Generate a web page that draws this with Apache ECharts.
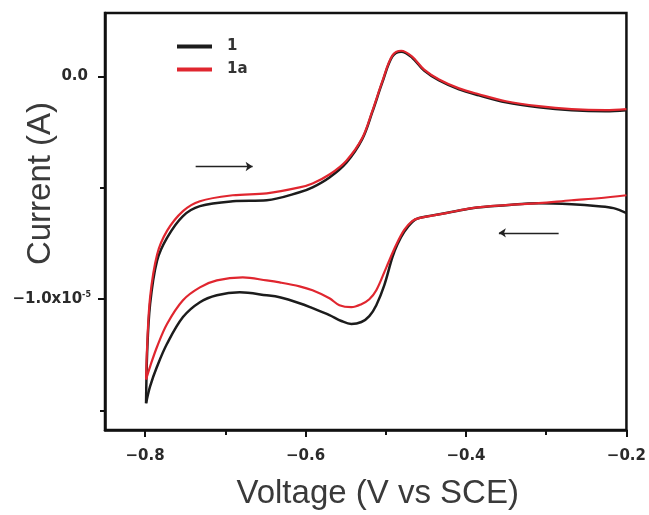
<!DOCTYPE html>
<html>
<head>
<meta charset="utf-8">
<script src="https://cdn.jsdelivr.net/npm/echarts@6/dist/echarts.min.js"></script>
<style>
html,body{margin:0;padding:0;background:#fff;}
#chart{width:649px;height:515px;}
</style>
</head>
<body>
<div id="chart"></div>
<script>
// Current values are in units of 1e-5 A
var seriesNames = ['1', '1a'];
// sample 1: forward scan (upper branch, -0.8 -> -0.2)
var blackUpV = [-0.7988,-0.7975,-0.7938,-0.7851,-0.7727,-0.7528,-0.7317,-0.6907,-0.6484,-0.6075,-0.5913,-0.5702,-0.5491,-0.5292,-0.5168,-0.5043,-0.4919,-0.4807,-0.4671,-0.4522,-0.4335,-0.4087,-0.3839,-0.3503,-0.3093,-0.2683,-0.2261,-0.2000];
var blackUpI = [-1.4667,-1.2444,-1.0222,-0.8267,-0.7244,-0.6267,-0.5822,-0.5600,-0.5556,-0.5200,-0.4978,-0.4533,-0.3867,-0.2800,-0.1600,-0.0267,0.0889,0.1111,0.0844,0.0267,-0.0178,-0.0578,-0.0844,-0.1156,-0.1378,-0.1511,-0.1556,-0.1511];
// sample 1: reverse scan (lower branch, -0.2 -> -0.8)
var blackDownV = [-0.2000,-0.2161,-0.2348,-0.2683,-0.3093,-0.3503,-0.3925,-0.4248,-0.4584,-0.4671,-0.4770,-0.4857,-0.4919,-0.5019,-0.5118,-0.5205,-0.5304,-0.5429,-0.5553,-0.5702,-0.5913,-0.6075,-0.6323,-0.6484,-0.6820,-0.7106,-0.7317,-0.7528,-0.7727,-0.7851,-0.7938,-0.7988];
var blackDownI = [-0.6133,-0.5911,-0.5822,-0.5733,-0.5689,-0.5778,-0.5911,-0.6133,-0.6356,-0.6533,-0.6978,-0.7556,-0.8133,-0.9378,-1.0267,-1.0756,-1.1022,-1.1111,-1.0978,-1.0711,-1.0400,-1.0178,-0.9911,-0.9822,-0.9689,-0.9822,-1.0133,-1.0800,-1.2000,-1.3022,-1.3911,-1.4667];
// sample 1a: forward scan
var redUpV = [-0.7988,-0.7975,-0.7938,-0.7851,-0.7727,-0.7528,-0.7317,-0.6907,-0.6484,-0.6075,-0.5913,-0.5702,-0.5491,-0.5292,-0.5168,-0.5043,-0.4919,-0.4807,-0.4671,-0.4522,-0.4335,-0.4087,-0.3839,-0.3503,-0.3093,-0.2683,-0.2261,-0.2000];
var redUpI = [-1.3600,-1.2133,-0.9911,-0.8000,-0.6933,-0.6044,-0.5600,-0.5333,-0.5244,-0.4978,-0.4800,-0.4400,-0.3778,-0.2756,-0.1556,-0.0222,0.0933,0.1156,0.0889,0.0311,-0.0133,-0.0533,-0.0800,-0.1111,-0.1333,-0.1467,-0.1511,-0.1467];
// sample 1a: reverse scan
var redDownV = [-0.2000,-0.2348,-0.2683,-0.3093,-0.3503,-0.3925,-0.4248,-0.4584,-0.4671,-0.4770,-0.4870,-0.4994,-0.5118,-0.5205,-0.5304,-0.5429,-0.5578,-0.5702,-0.5913,-0.6075,-0.6323,-0.6484,-0.6783,-0.7106,-0.7317,-0.7528,-0.7727,-0.7851,-0.7938,-0.7988];
var redDownI = [-0.5333,-0.5467,-0.5556,-0.5689,-0.5778,-0.5911,-0.6133,-0.6356,-0.6489,-0.6889,-0.7556,-0.8578,-0.9600,-1.0000,-1.0222,-1.0356,-1.0267,-0.9956,-0.9600,-0.9422,-0.9244,-0.9156,-0.9022,-0.9156,-0.9467,-1.0044,-1.1111,-1.2133,-1.3022,-1.3600];
var xMajorTicks = [-0.8, -0.6, -0.4, -0.2];
var xMinorTicks = [-0.7, -0.5, -0.3];
var yMajorTicks = [0, -1.0];
var yMinorTicks = [-0.5, -1.5];
var forwardArrow = [[-0.737, -0.404], [-0.666, -0.404]];
var reverseArrow = [[-0.2845, -0.702], [-0.359, -0.702]];

function zip(xs, ys) { return xs.map(function (x, i) { return [x, ys[i]]; }); }

var chart = echarts.init(document.getElementById('chart'), null, {renderer: 'canvas'});
var FONT = '"Liberation Sans", Arial, sans-serif';
var TICKFONT = '"DejaVu Sans", sans-serif';
var xMin = -0.85, xMax = -0.2, yMin = -1.587, yMax = 0.285;
var BLACK = '#1c1c1c', RED = '#e0262f';

function cvLine(name, v, i, color, width, extra) {
  var s = {
    name: name, type: 'line', xAxisIndex: 0, yAxisIndex: 0,
    data: zip(v, i), showSymbol: false, symbol: 'none', smooth: 0.35,
    lineStyle: {color: color, width: width}, itemStyle: {color: color}
  };
  if (extra) { for (var k in extra) s[k] = extra[k]; }
  return s;
}

chart.setOption({
  backgroundColor: '#ffffff',
  animation: false,
  textStyle: {fontFamily: FONT},
  grid: {left: 105, right: 21, top: 13, bottom: 81, show: true, borderColor: '#111', borderWidth: 2.5, backgroundColor: 'transparent'},
  legend: {
    orient: 'vertical', left: 172, top: 33, itemWidth: 35, itemHeight: 4, itemGap: 6,
    icon: 'rect',
    data: seriesNames,
    textStyle: {fontFamily: TICKFONT, fontSize: 15, fontWeight: 'bold', color: '#333', padding: [0, 0, 0, 10], lineHeight: 17}
  },
  xAxis: [{
    type: 'value', min: xMin, max: xMax, position: 'bottom',
    name: 'Voltage (V vs SCE)', nameLocation: 'middle', nameGap: 47, nameMoveOverlap: false,
    nameTextStyle: {fontFamily: FONT, fontSize: 33, color: '#3a3a3a', padding: [0, 0, 0, 24]},
    axisLine: {show: true, onZero: false, lineStyle: {color: '#111', width: 2.5}},
    axisTick: {show: true, inside: false, length: 7, customValues: xMajorTicks, lineStyle: {color: '#111', width: 2}},
    axisLabel: {show: true, customValues: xMajorTicks, margin: 19, fontFamily: TICKFONT, fontSize: 15, fontWeight: 'bold', color: '#2a2a2a',
      formatter: function (v) { return (v < 0 ? '\u2212' : '') + Math.abs(v).toFixed(1); }},
    splitLine: {show: false}
  }, {
    type: 'value', min: xMin, max: xMax, position: 'bottom',
    axisLine: {show: false, onZero: false},
    axisTick: {show: true, inside: false, length: 5, customValues: xMinorTicks, lineStyle: {color: '#111', width: 2}},
    axisLabel: {show: false},
    splitLine: {show: false}
  }],
  yAxis: [{
    type: 'value', min: yMin, max: yMax, position: 'left',
    name: 'Current (A)', nameLocation: 'middle', nameGap: 48, nameRotate: 90, nameMoveOverlap: false,
    nameTextStyle: {fontFamily: FONT, fontSize: 33, color: '#3a3a3a', padding: [0, 0, 0, 76]},
    axisLine: {show: true, onZero: false, lineStyle: {color: '#111', width: 2.5}},
    axisTick: {show: true, inside: false, length: 7, customValues: yMajorTicks, lineStyle: {color: '#111', width: 2}},
    axisLabel: {show: true, customValues: yMajorTicks, margin: 14, fontFamily: TICKFONT, fontSize: 15, fontWeight: 'bold', color: '#2a2a2a',
      formatter: function (v) { return v === 0 ? '0.0{pad|}' : '\u22121.0x10{sup|-5}'; },
      rich: {
        sup: {fontSize: 8, fontWeight: 'bold', color: '#2a2a2a', fontFamily: TICKFONT, padding: [0, 0, 8, 0]},
        pad: {width: 3}
      }},
    splitLine: {show: false}
  }, {
    type: 'value', min: yMin, max: yMax, position: 'left',
    axisLine: {show: false, onZero: false},
    axisTick: {show: true, inside: false, length: 5, customValues: yMinorTicks, lineStyle: {color: '#111', width: 2}},
    axisLabel: {show: false},
    splitLine: {show: false}
  }],
  series: [
    cvLine(seriesNames[0], blackUpV, blackUpI, BLACK, 2.5, {
      markLine: {
        silent: true, symbol: ['none', 'arrow'], symbolSize: [7, 7], animation: false,
        label: {show: false},
        lineStyle: {color: '#222', width: 1.3, type: 'solid'},
        data: [
          [{coord: forwardArrow[0]}, {coord: forwardArrow[1]}],
          [{coord: reverseArrow[0]}, {coord: reverseArrow[1]}]
        ]
      }
    }),
    cvLine(seriesNames[0], blackDownV, blackDownI, BLACK, 2.5),
    cvLine(seriesNames[1], redUpV, redUpI, RED, 2.2),
    cvLine(seriesNames[1], redDownV, redDownI, RED, 2.2)
  ]
});
</script>
</body>
</html>
